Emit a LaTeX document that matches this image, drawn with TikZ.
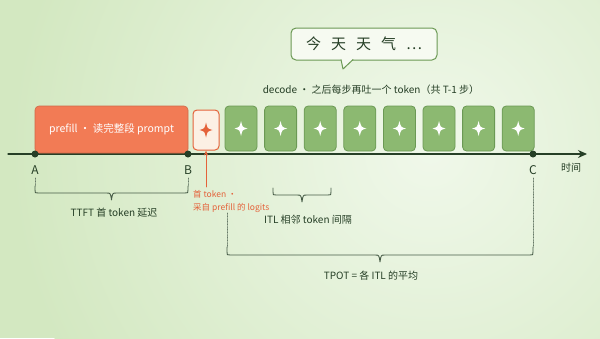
\documentclass[tikz,border=0pt]{standalone}
\usepackage{fontspec}
\setmainfont{Noto Sans CJK SC}
\usetikzlibrary{arrows.meta,calc,positioning}

\definecolor{bgdeep}{HTML}{D3E8C1}
\definecolor{bglite}{HTML}{F0F8EA}
\definecolor{ink}{HTML}{263F26}
\definecolor{leaf}{HTML}{8CB971}
\definecolor{leafrim}{HTML}{6B9954}
\definecolor{ember}{HTML}{F27B55}
\definecolor{emberrim}{HTML}{E4623A}
\definecolor{cream}{HTML}{FCF0E4}
\definecolor{paper}{HTML}{F6FAF1}

\tikzset{
  tokbox/.style={draw=leafrim, fill=leaf, line width=0.8pt, rounded corners=4pt,
    minimum width=32pt, minimum height=45pt, inner sep=0pt},
  firstbox/.style={draw=emberrim, fill=cream, line width=1pt, rounded corners=4pt,
    minimum width=26pt, minimum height=40pt, inner sep=0pt},
  prefillbox/.style={fill=ember, draw=ember!85!black, line width=0.6pt, rounded corners=4pt,
    minimum width=153pt, minimum height=47pt, text=white, font=\fontsize{10.5}{12}\selectfont},
  bubble/.style={draw=leafrim, fill=paper, line width=1pt, rounded corners=5pt,
    minimum width=146pt, minimum height=32pt, text=ink, font=\fontsize{15}{18}\selectfont},
  ptdot/.style={circle, fill=ink, inner sep=0pt, minimum size=7pt},
  ptlabel/.style={text=ink, font=\fontsize{12}{14}\selectfont},
  notetext/.style={text=ink, font=\fontsize{10}{12}\selectfont},
  firstnote/.style={text=emberrim, font=\fontsize{8.5}{13}\selectfont, inner sep=1pt, align=left},
  bracepen/.style={draw=ink!85, line width=0.9pt},
  guide/.style={draw=ink!70, line width=0.6pt, densely dotted},
  spark/.pic={\fill[pic actions] (0,-7.5) .. controls (1.4,-1.4) .. (6.5,0)
    .. controls (1.4,1.4) .. (0,7.5) .. controls (-1.4,1.4) .. (-6.5,0)
    .. controls (-1.4,-1.4) .. cycle;},
}

% left x, right x, hook top, bar
\newcommand\timebrace[4]{%
  \draw[bracepen] (#1,#3) -- (#1,#4-3) .. controls (#1,#4) .. (#1+3,#4)
    -- ({(#1+#2)/2-5},#4) .. controls ({(#1+#2)/2-1},#4) .. ({(#1+#2)/2},#4+7)
    .. controls ({(#1+#2)/2+1},#4) .. ({(#1+#2)/2+5},#4)
    -- (#2-3,#4) .. controls (#2,#4) .. (#2,#4-3) -- (#2,#3);}

\begin{document}
\begin{tikzpicture}[x=1pt, y=-1pt, line cap=round, line join=round, >=Stealth]
  \useasboundingbox (0,0) rectangle (600,338);
  \begin{scope}
    \clip (0,0) rectangle (600,338);
    \fill[bgdeep] (0,0) rectangle (600,338);
    \shade[inner color=bglite, outer color=bgdeep] (430,150) circle (420);
  \end{scope}

  % time axis
  \coordinate (axL) at (8,154);
  \coordinate (axR) at (587,154);
  \draw[ink, line width=1.3pt, -{Stealth[length=9pt,width=8pt]}] (axL) -- (axR);

  % prefill and tokens
  \node[prefillbox] (prefill) at (111.5,129.5) {prefill · 读完整段 prompt};
  \node[firstbox] (first) at (206,130) {};
  \pic[fill=emberrim] at (first) {spark};
  \foreach \i in {1,...,8} {
    \node[tokbox] (g\i) at ({241+39.6*(\i-1)},128.5) {};
    \pic[fill=white] at (g\i) {spark};
  }

  \node[ptdot] (A) at (35,154) {};
  \node[ptdot] (B) at (188,154) {};
  \node[ptdot] (C) at (533,154) {};
  \node[ptlabel] (labA) at (35,170) {A};
  \node[ptlabel] (labB) at (188,170) {B};
  \node[ptlabel] (labC) at (533,170) {C};
  \node[notetext] (time) at (571,168) {时间};

  \node[notetext] (decode) at (371,90) {decode · 之后每步再吐一个 token（共 T-1 步）};

  % speech bubble
  \node[bubble] (say) at (364,44) {今\hspace{10pt}天\hspace{10pt}天\hspace{10pt}气\hspace{10pt}⋯};
  \coordinate (tailL) at (341,59.6);
  \coordinate (tailT) at (343,69);
  \coordinate (tailR) at (353,59.6);
  \fill[paper] (340.5,58.5) -- (tailT) -- (353.5,58.5) -- cycle;
  \draw[leafrim, line width=1pt] (tailL) -- (tailT) -- (tailR);

  % first token note
  \coordinate (noteTail) at (206,187);
  \draw[emberrim, line width=0.8pt, -{Stealth[length=5pt,width=4pt]}] (noteTail) -- (first.south);
  \node[firstnote, anchor=north west] (firstlbl) at (192,189) {首 token ·\\采自 prefill 的 logits};

  % guides and braces
  \coordinate (tpotL) at (227,213);
  \draw[guide] ($(A)+(0,24)$) -- ++(0,8);
  \draw[guide] ($(B)+(0,24)$) -- ++(0,8);
  \draw[guide] ($(C)+(0,24)$) -- ++(0,69);
  \draw[guide] (tpotL) -- ++(0,34);
  \timebrace{35}{188}{186}{193}
  \timebrace{273}{331}{188}{195}
  \timebrace{227}{533}{247}{255}

  \node[notetext] (ttft) at (114,213) {TTFT 首 token 延迟};
  \node[notetext] (itl) at (308,220) {ITL 相邻 token 间隔};
  \node[notetext] (tpot) at (371,276) {TPOT = 各 ITL 的平均};
\end{tikzpicture}
\end{document}
